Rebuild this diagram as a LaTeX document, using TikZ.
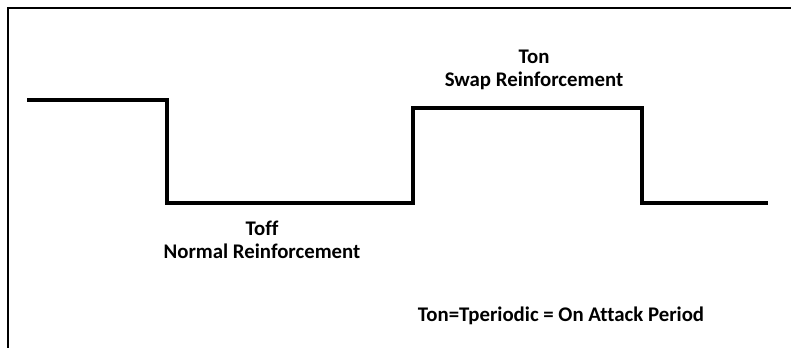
\documentclass[tikz,border=0pt]{standalone}
\usepackage{fontspec}
\setmainfont[Ligatures=NoCommon]{Carlito}
\usepackage{tikz}

\begin{document}
\begin{tikzpicture}
     [x=0.025cm, y=-0.025cm,
     wave/.style={draw=black, line width=2.9pt, line join=miter},
     waveshadow/.style={draw=black!25, line width=2.9pt, line join=miter},
     frame/.style={draw=black, line width=0.9pt},
     label/.style={font=\fontsize{14.8}{16.5}\selectfont\bfseries, align=center, inner sep=0pt},
     ]
 \useasboundingbox (0,0) rectangle (791,348);
 % frame, only top and left edges
 \coordinate (topright) at (791,8);
 \coordinate (corner) at (8,8);
 \coordinate (bottomleft) at (8,348);
 \draw[frame] (topright) -- (corner) -- (bottomleft);
 % corner points of the square wave
 \coordinate (w0) at (27,100);
 \coordinate (w1) at (167,100);
 \coordinate (w2) at (167,203);
 \coordinate (w3) at (413,203);
 \coordinate (w4) at (413,108);
 \coordinate (w5) at (642,108);
 \coordinate (w6) at (642,203);
 \coordinate (w7) at (768,203);
 \draw[waveshadow, shift={(1.5,2)}] (w0) -- (w1) -- (w2) -- (w3) -- (w4) -- (w5) -- (w6) -- (w7);
 \draw[wave] (w0) -- (w1) -- (w2) -- (w3) -- (w4) -- (w5) -- (w6) -- (w7);
 % labels
 \node[label] (on) at (534,70) {Ton\\Swap Reinforcement};
 \node[label] (off) at (262,240) {Toff\\Normal Reinforcement};
 \node[label] (period) at (561,316) {Ton=Tperiodic = On Attack Period};
 \end{tikzpicture}
\end{document}
